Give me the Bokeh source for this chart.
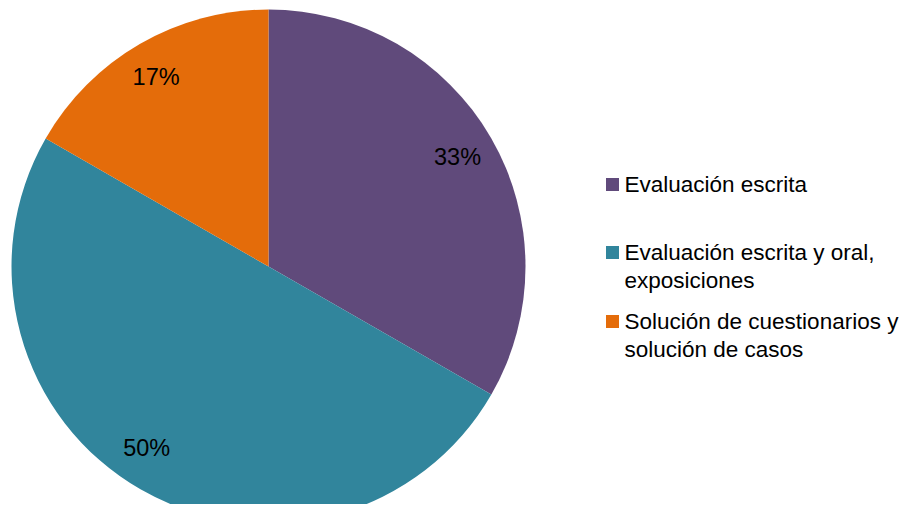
from bokeh.plotting import figure
from bokeh.models import Range1d, ColumnDataSource
from bokeh.core.properties import value
from bokeh.embed import file_html
from bokeh.resources import INLINE
import math

categories = ["Evaluación escrita", "Evaluación escrita y oral,\nexposiciones", "Solución de cuestionarios y\nsolución de casos"]
values = [33.3, 50.0, 16.7]
pct_labels = ["33%", "50%", "17%"]
colors = ["#604A7B", "#31859C", "#E46C0A"]

W, H = 904, 504
p = figure(width=W, height=H, output_backend="svg", toolbar_location=None,
           x_range=Range1d(0, W), y_range=Range1d(0, H), min_border=0)
p.axis.visible = False
p.grid.visible = False
p.outline_line_color = None
p.background_fill_color = "white"

cx, cy, R = 268, 238, 257
# small label nudges (pixels), layout only
nudge_x = [0, -13, -3]
nudge_y = [0, 8, 0]
total = sum(values)
starts, ends, lx, ly = [], [], [], []
a = math.pi / 2
for i, v in enumerate(values):
    sweep = v / total * 2 * math.pi
    starts.append(a)
    ends.append(a - sweep)
    mid = a - sweep / 2
    lx.append(cx + 0.85 * R * math.cos(mid) + nudge_x[i])
    ly.append(cy + 0.85 * R * math.sin(mid) + nudge_y[i])
    a -= sweep

src = ColumnDataSource(dict(start=starts, end=ends, color=colors, lx=lx, ly=ly, lab=pct_labels))
p.wedge(x=cx, y=cy, radius=R, start_angle="start", end_angle="end", direction="clock",
        fill_color="color", line_color=None, source=src)
p.text(x="lx", y="ly", text="lab", source=src, text_align="center", text_baseline="middle",
       text_font=value("Liberation Sans"), text_font_size="23.5px", text_color="#000000")

# legend
leg_y = [320, 252, 183]
lsrc = ColumnDataSource(dict(y=leg_y, ty=[y + 13 for y in leg_y], lab=categories, color=colors))
p.scatter(x=612, y="y", marker="square", size=13, fill_color="color", line_color=None, source=lsrc)
p.text(x=624, y="ty", text="lab", source=lsrc, text_align="left", text_baseline="top",
       text_font=value("Liberation Sans"), text_font_size="22.5px", text_color="#000000",
       text_line_height=1.13)

open("out.html", "w").write(file_html(p, INLINE))
